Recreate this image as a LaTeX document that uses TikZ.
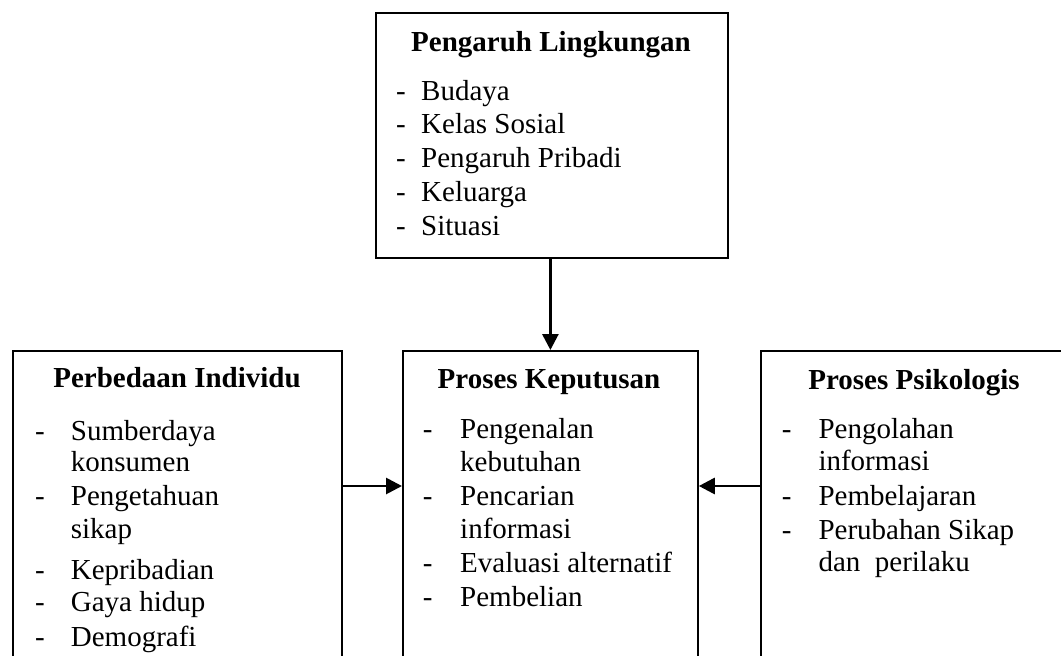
\documentclass[tikz,border=0pt]{standalone}
\usepackage{fontspec}
\setmainfont{Liberation Serif}
\usetikzlibrary{arrows.meta}
\begin{document}
\begin{tikzpicture}[x=1pt,y=-1pt,
  box/.style={draw, line width=1.8pt, inner sep=0pt, rectangle, anchor=north west},
  ttl/.style={anchor=base, font=\fontsize{29}{33}\selectfont\bfseries, inner sep=0pt},
  itm/.style={anchor=base west, font=\fontsize{29}{33}\selectfont, inner sep=0pt},
  conn/.style={line width=2.8pt, -{Triangle[length=16pt,width=16pt]}}]
\useasboundingbox (0,0) rectangle (1061,656);
\clip (0,0) rectangle (1061,656);
\fill[white] (0,0) rectangle (1061,656);
% boxes
\node[box, minimum width=352pt, minimum height=245pt] (env) at (375,12) {};
\node[box, minimum width=329pt, minimum height=340pt] (ind) at (12,350) {};
\node[box, minimum width=295pt, minimum height=340pt] (dec) at (402,350) {};
\node[box, minimum width=360pt, minimum height=340pt] (psy) at (760,350) {};
% titles
\node[ttl] (t1) at (551,51.7) {Pengaruh Lingkungan};
\node[ttl] (t2) at (177,387.7) {Perbedaan Individu};
\node[ttl] (t3) at (549,388.3) {Proses Keputusan};
\node[ttl] (t4) at (914,389) {Proses Psikologis};
% top box items
\foreach \y/\t [count=\i] in {100/Budaya,133.5/Kelas Sosial,167/Pengaruh Pribadi,201/Keluarga,235/Situasi}{
  \node[itm] (ad\i) at (396,\y) {-};
  \node[itm] (at\i) at (421,\y) {\t};
}
% left box items
\foreach \y/\d/\t [count=\i] in {440/-/Sumberdaya,471.7//konsumen,505/-/Pengetahuan,538//sikap,579/-/Kepribadian,611.7/-/Gaya hidup,646/-/Demografi}{
  \node[itm] (bd\i) at (35,\y) {\d};
  \node[itm] (bt\i) at (70.7,\y) {\t};
}
% center box items
\foreach \y/\d/\t [count=\i] in {438.3/-/Pengenalan,471.7//kebutuhan,505/-/Pencarian,538.3//informasi,572.7/-/Evaluasi alternatif,606.7/-/Pembelian}{
  \node[itm] (cd\i) at (422.7,\y) {\d};
  \node[itm] (ct\i) at (460,\y) {\t};
}
% right box items
\foreach \y/\d/\t [count=\i] in {438.3/-/Pengolahan,470.7//informasi,505.7/-/Pembelajaran,539.3/-/Perubahan Sikap,571.7//dan\ \ perilaku}{
  \node[itm] (dd\i) at (781.7,\y) {\d};
  \node[itm] (dt\i) at (818.3,\y) {\t};
}
% connectors
\coordinate (h) at (0,486);
\draw[conn] (dec.north |- env.south) -- (dec.north);
\draw[conn] (ind.east |- h) -- (dec.west |- h);
\draw[conn] (psy.west |- h) -- (dec.east |- h);
\end{tikzpicture}
\end{document}
